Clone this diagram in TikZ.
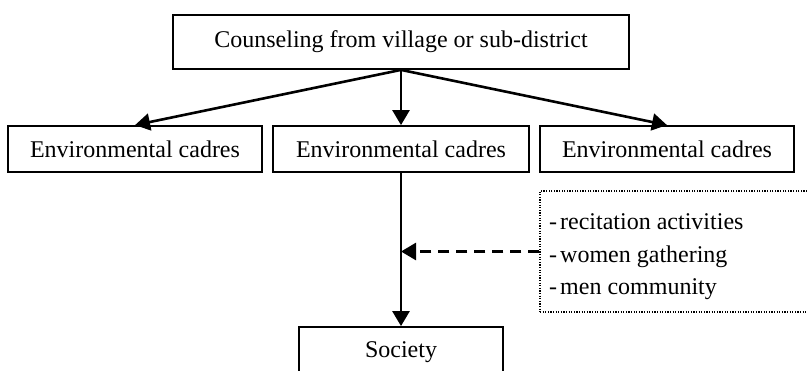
\documentclass[tikz,border=0pt]{standalone}
\usepackage{fontspec}
\setmainfont{Liberation Serif}
\usetikzlibrary{arrows.meta}
\begin{document}
\begin{tikzpicture}[x=1pt,y=-1pt,
  box/.style={draw,line width=1.8pt,minimum height=46pt,inner sep=0pt,font=\fontsize{24}{28}\selectfont},
  arr/.style={line width=2.6pt,-{Triangle[length=15pt,width=17pt]}},
  dasharr/.style={arr,dash pattern=on 11pt off 7pt},
  listbox/.style={draw,line width=1.2pt,dash pattern=on 1.2pt off 1.4pt,inner sep=0pt},
  item/.style={anchor=base west,inner sep=0pt,font=\fontsize{24}{28}\selectfont}]
\useasboundingbox (0,0) rectangle (807,370);
\begin{scope}
\clip (0,0) rectangle (807,370);
\node[box,minimum width=456pt,minimum height=54pt] (top) at (401,42) {Counseling from village or sub-district};
\node[box,minimum width=254pt] (c1) at (135,149) {Environmental cadres};
\node[box,minimum width=256pt] (c2) at (401,149) {Environmental cadres};
\node[box,minimum width=254pt] (c3) at (667,149) {Environmental cadres};
\node[box,minimum width=204pt,minimum height=50pt] (soc) at (401,352) {Society};
\node[listbox,minimum width=272pt,minimum height=121pt] (list) at (676,251.5) {};
\node[item] (l1) at (549,229) {-\hspace{3pt}recitation activities};
\node[item] (l2) at (549,262) {-\hspace{3pt}women gathering};
\node[item] (l3) at (549,294) {-\hspace{3pt}men community};
\coordinate (mid) at (401,251.5);
\draw[arr] (top.south) -- (c1.north);
\draw[arr] (top.south) -- (c2.north);
\draw[arr] (top.south) -- (c3.north);
\draw[arr] (c2.south) -- (soc.north);
\draw[dasharr] (list.west) -- (mid);
\end{scope}
\end{tikzpicture}
\end{document}
